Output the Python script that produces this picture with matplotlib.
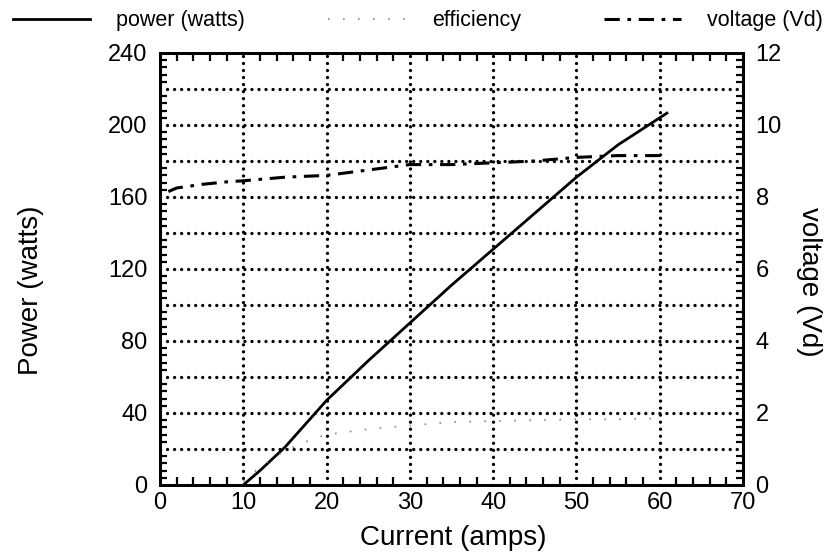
import matplotlib
matplotlib.use("Agg")
import matplotlib.pyplot as plt
from matplotlib.ticker import MultipleLocator, FuncFormatter
from matplotlib.lines import Line2D

plt.rcParams['font.family'] = ['Liberation Sans', 'DejaVu Sans']

# Data
power_current = [10, 12, 15, 20, 25, 30, 35, 40, 45, 50, 55, 61]
power_watts = [0, 8, 21, 47, 69, 90, 111, 131, 151, 171, 189, 207]

eff_current = [10, 12, 15, 18, 20, 25, 30, 35, 40, 45, 50, 55, 60]
eff_values = [2, 10, 19, 25, 28, 31, 33, 35, 35.5, 36, 36.5, 36.5, 37]

volt_current = [1, 2, 5, 8, 10, 15, 20, 25, 30, 35, 40, 45, 50, 55, 61]
volt_values = [8.15, 8.25, 8.35, 8.42, 8.45, 8.55, 8.6, 8.75, 8.9, 8.9, 8.95, 9.0, 9.1, 9.15, 9.15]

x_ticks = [0, 10, 20, 30, 40, 50, 60, 70]
left_ticks = [0, 40, 80, 120, 160, 200, 240]
right_ticks = [0, 2, 4, 6, 8, 10, 12]

fig = plt.figure(figsize=(8.36, 5.59), dpi=100)
ax = fig.add_axes([0.1914, 0.1324, 0.6974, 0.7728])
ax2 = ax.twinx()

ax.set_xlim(0, 70)
ax.set_ylim(0, 240)
ax2.set_ylim(0, 12)

volt_ls = (0, (5, 2.5, 1.2, 2.5))
eff_ls = (0, (1, 8))

l1, = ax.plot(power_current, power_watts, color='black', lw=2.0, solid_capstyle='butt')
l2, = ax.plot(eff_current, eff_values, color='#888888', lw=1.2, linestyle=eff_ls)
l3, = ax2.plot(volt_current, volt_values, color='black', lw=2.2, linestyle=volt_ls)

ax.xaxis.set_major_locator(MultipleLocator(10))
ax.xaxis.set_minor_locator(MultipleLocator(2))
ax.set_xticks(x_ticks)
ax.yaxis.set_major_locator(MultipleLocator(20))
ax.yaxis.set_minor_locator(MultipleLocator(4))
ax.yaxis.set_major_formatter(FuncFormatter(lambda v, p: f"{int(round(v))}" if int(round(v)) in left_ticks else ""))
ax2.yaxis.set_major_locator(MultipleLocator(1))
ax2.yaxis.set_minor_locator(MultipleLocator(0.2))
ax2.yaxis.set_major_formatter(FuncFormatter(lambda v, p: f"{int(round(v))}" if int(round(v)) in right_ticks else ""))

gkw = dict(color='black', lw=2.4, linestyle=(0, (0.01, 2.1)), dash_capstyle='round')
ax.grid(True, which='major', axis='both', **gkw)
ax.set_axisbelow(True)

for a in (ax, ax2):
    for s in a.spines.values():
        s.set_linewidth(2)
ax.tick_params(axis='x', which='both', direction='in', top=True, bottom=True, labelsize=17, pad=5)
ax.tick_params(axis='x', which='major', length=0)
ax.tick_params(axis='x', which='minor', length=6, width=1.6)
ax.tick_params(axis='y', which='major', direction='in', length=0, labelsize=17, pad=9, left=True, right=False)
ax.tick_params(axis='y', which='minor', direction='in', length=5, width=1.6, right=False)
ax2.tick_params(axis='y', which='major', direction='in', length=0, labelsize=17, pad=9)
ax2.tick_params(axis='y', which='minor', direction='in', length=5, width=1.6)

ax.set_xlabel('Current (amps)', fontsize=20)
ax.set_ylabel('Power (watts)', fontsize=20)
ax2.set_ylabel('voltage (Vd)', fontsize=20, rotation=270, va='bottom')
ax.xaxis.set_label_coords(0.503, -0.093)
ax.yaxis.set_label_coords(-0.199, 0.45)
ax2.yaxis.set_label_coords(1.09, 0.47)

handles = [Line2D([], [], color='black', lw=2.0),
           Line2D([], [], color='#888888', lw=1.2, linestyle=eff_ls),
           Line2D([], [], color='black', lw=2.2, linestyle=volt_ls)]
fig.legend(handles, ['power (watts)', 'efficiency', 'voltage (Vd)'],
           loc='upper left', bbox_to_anchor=(0.0, 1.005, 1.0, 0.0), mode='expand',
           ncol=3, frameon=False, fontsize=15.5, handlelength=3.6, handletextpad=1.2,
           borderaxespad=0.2)

fig.savefig('out.png', dpi=100)
